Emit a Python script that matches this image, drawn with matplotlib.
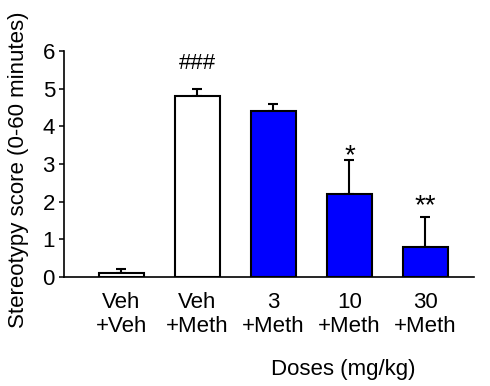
import matplotlib
matplotlib.use('Agg')
import matplotlib.pyplot as plt

# datos
grupos = ['Veh\n+Veh', 'Veh\n+Meth', '3\n+Meth', '10\n+Meth', '30\n+Meth']
medias = [0.1, 4.8, 4.4, 2.2, 0.8]
errores = [0.1, 0.2, 0.2, 0.9, 0.8]
marcas = ['', '###', '', '*', '**']
colores = ['white', 'white', '#0000ff', '#0000ff', '#0000ff']

plt.rcParams['font.family'] = ['Liberation Sans', 'DejaVu Sans']

fig = plt.figure(figsize=(4.9, 3.86), dpi=100)
ax = fig.add_axes([0.1306, 0.2824, 0.8367, 0.5855])

x = list(range(len(grupos)))
ax.bar(x, medias, width=0.59, color=colores, edgecolor='black', linewidth=1.5, zorder=2)
ax.errorbar(x, medias, yerr=[[0] * len(errores), errores], fmt='none',
            ecolor='black', elinewidth=1.5, capsize=3.3, capthick=1.5, zorder=1)

# marcas de significancia sobre las barras de error (offset y tamaño)
estilo = {'###': (14.5, 16), '*': (-1.8, 20), '**': (2.5, 20)}
for xi, m, e, s in zip(x, medias, errores, marcas):
    if s:
        dy, fs = estilo[s]
        ax.annotate(s, (xi, m + e), xytext=(0, dy), textcoords='offset points',
                    ha='center', va='baseline', fontsize=fs)

ax.set_xlim(-0.757, 4.64)
ax.set_ylim(0, 6)
ax.set_yticks(range(0, 7))
ax.set_xticks(x)
ax.set_xticklabels(grupos, fontsize=16)
ax.tick_params(axis='x', length=0, pad=11)
ax.tick_params(axis='y', labelsize=16, length=3.5, width=1.1, pad=3)

ax.spines['top'].set_visible(False)
ax.spines['right'].set_visible(False)
ax.spines['left'].set_linewidth(1.2)
ax.spines['bottom'].set_linewidth(1.2)

ax.set_xlabel('Doses (mg/kg)', fontsize=16)
ax.xaxis.set_label_coords(0.68, -0.362)
ax.set_ylabel('Stereotypy score (0-60 minutes)', fontsize=16)
ax.yaxis.set_label_coords(-0.086, 0.473)

fig.savefig('out.png', dpi=100)
